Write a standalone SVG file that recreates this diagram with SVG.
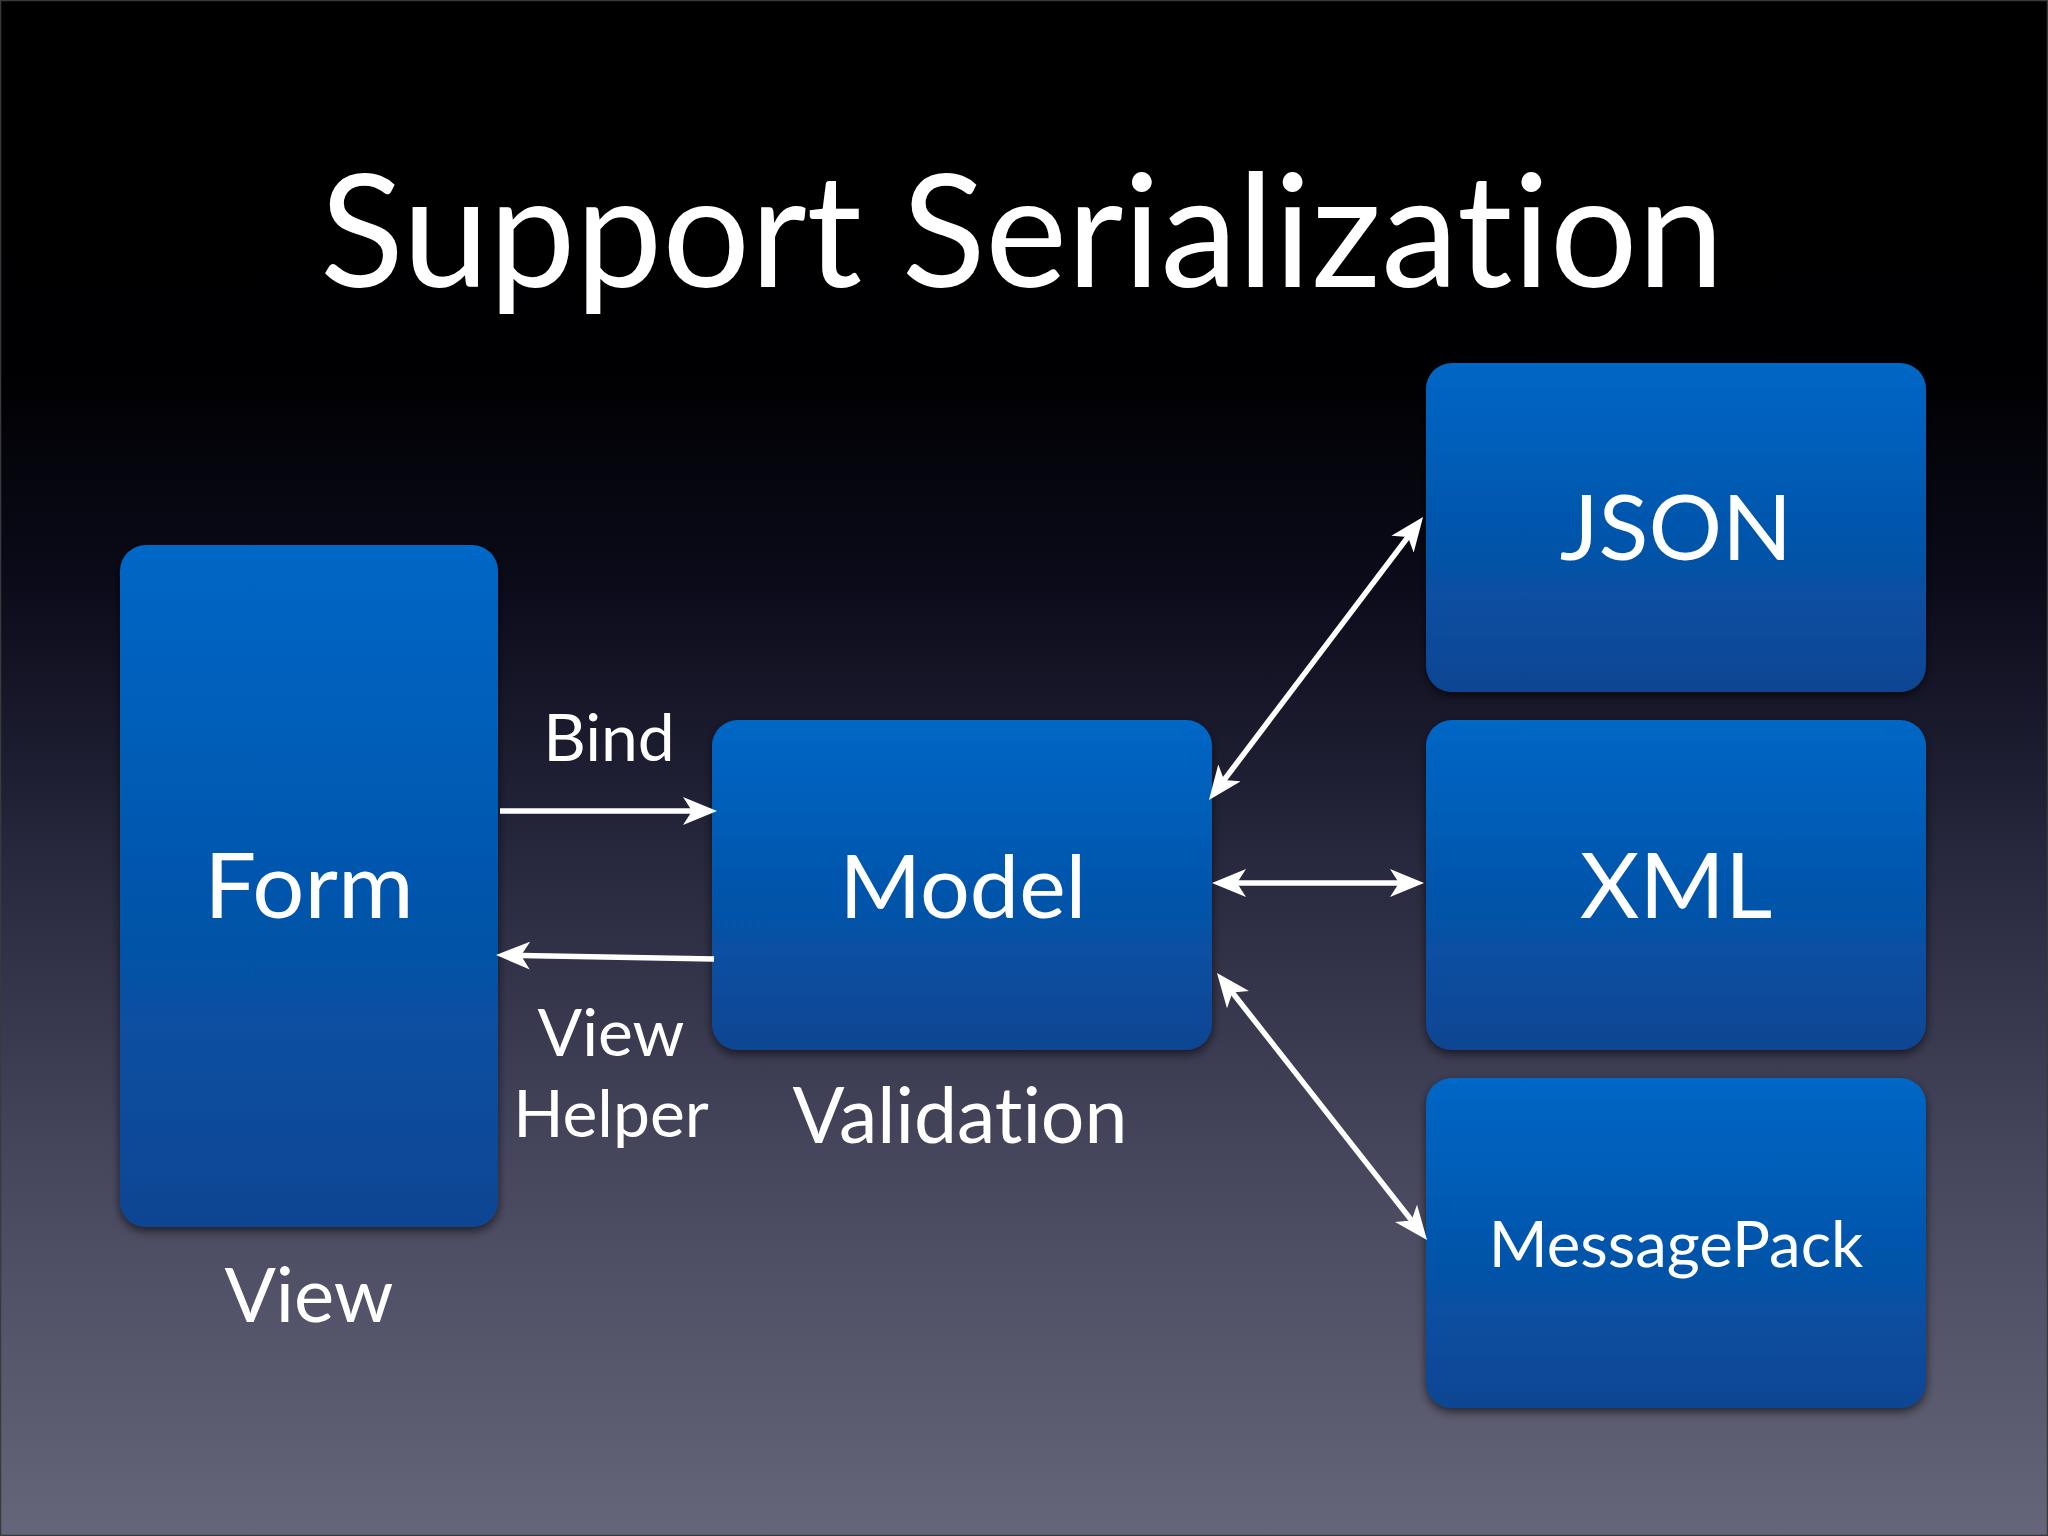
<svg xmlns="http://www.w3.org/2000/svg" width="2048" height="1536" viewBox="0 0 2048 1536">
<defs>
<linearGradient id="bg" x1="0" y1="0" x2="0" y2="1">
<stop offset="0" stop-color="#000000"/>
<stop offset="0.24" stop-color="#000002"/>
<stop offset="0.38" stop-color="#0b0b1a"/>
<stop offset="0.55" stop-color="#26263c"/>
<stop offset="0.75" stop-color="#45455c"/>
<stop offset="1" stop-color="#66667a"/>
</linearGradient>
<linearGradient id="box" x1="0" y1="0" x2="0" y2="1">
<stop offset="0" stop-color="#0067c6"/>
<stop offset="1" stop-color="#0a4592"/>
</linearGradient>
<filter id="sh" x="-10%" y="-10%" width="120%" height="120%">
<feDropShadow dx="0" dy="4" stdDeviation="5" flood-color="#000" flood-opacity="0.6"/>
</filter>
<marker id="ah" viewBox="0 0 34 28" refX="22" refY="14" markerWidth="34" markerHeight="28" markerUnits="userSpaceOnUse" orient="auto-start-reverse">
<path d="M0,0 L34,14 L0,28 L9,14 Z" fill="#fff"/>
</marker>
<style>
.node rect{fill:url(#box);filter:url(#sh)}
.t{font-family:"Lato","Open Sans",sans-serif;fill:#fff;text-anchor:middle;font-variant-ligatures:none}
.big{font-size:92px}
.lbl{font-size:66px}
.conn line{stroke:#fff;stroke-width:5.5;fill:none}
</style>
</defs>
<rect x="0" y="0" width="2048" height="1536" fill="url(#bg)"/>
<rect x="0.5" y="0.5" width="2047" height="1535" fill="none" stroke="#3a3a3e" stroke-width="1.5"/>
<text class="t" x="1022" y="287" font-size="158" textLength="1404" lengthAdjust="spacingAndGlyphs">Support Serialization</text>

<g id="form" class="node">
<rect x="120" y="545" width="378" height="682" rx="26"/>
<text class="t big" x="309" y="918">Form</text>
</g>
<g id="model" class="node">
<rect x="712" y="720" width="500" height="330" rx="26"/>
<text class="t" x="963" y="918" font-size="88">Model</text>
</g>
<g id="json" class="node">
<rect x="1426" y="363" width="500" height="329" rx="26"/>
<text class="t big" x="1676" y="560">JSON</text>
</g>
<g id="xml" class="node">
<rect x="1426" y="720" width="500" height="330" rx="26"/>
<text class="t big" x="1676" y="918">XML</text>
</g>
<g id="msgpack" class="node">
<rect x="1426" y="1078" width="500" height="330" rx="26"/>
<text class="t" x="1676" y="1267" font-size="63.5">MessagePack</text>
</g>

<g id="labels">
<text class="t lbl" x="609" y="761">Bind</text>
<text class="t lbl" x="611" y="1056" font-size="69">View</text>
<text class="t lbl" x="611" y="1137" font-size="69">Helper</text>
<text class="t" x="960" y="1143" font-size="77">Validation</text>
<text class="t" x="309" y="1322" font-size="76">View</text>
</g>

<g id="connectors" class="conn">
<line x1="500" y1="811" x2="705" y2="811" marker-end="url(#ah)"/>
<line x1="714" y1="959" x2="508" y2="955.2" marker-end="url(#ah)"/>
<line x1="1216.2" y1="790.4" x2="1415.8" y2="526.6" marker-start="url(#ah)" marker-end="url(#ah)"/>
<line x1="1224" y1="883" x2="1412" y2="883" marker-start="url(#ah)" marker-end="url(#ah)"/>
<line x1="1224.4" y1="982.4" x2="1419.6" y2="1230.6" marker-start="url(#ah)" marker-end="url(#ah)"/>
</g>
</svg>
